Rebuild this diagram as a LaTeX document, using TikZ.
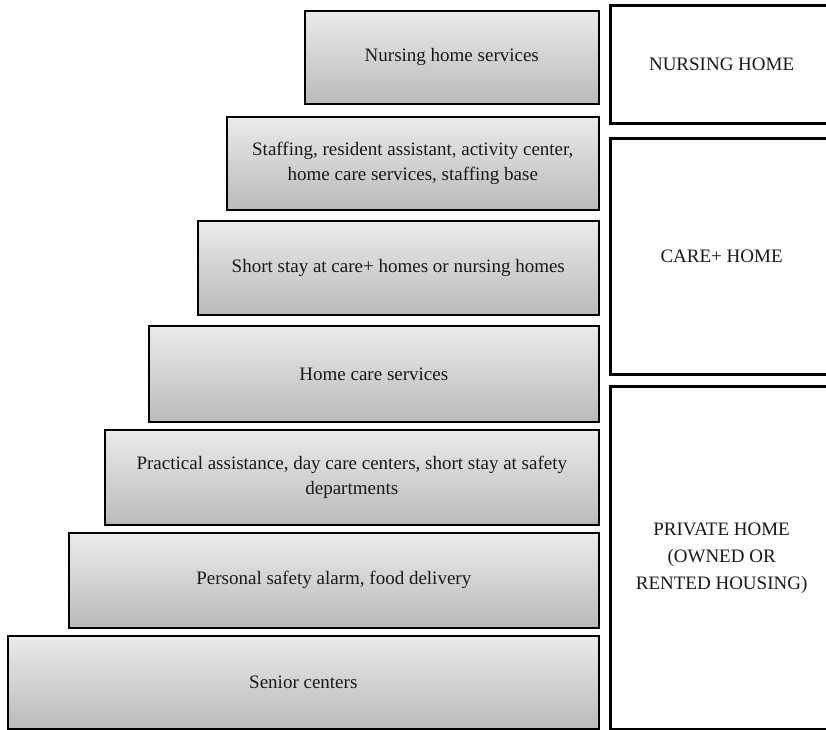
\documentclass[tikz,border=0pt]{standalone}
\usepackage{fontspec}
\setmainfont{Liberation Serif}
\usetikzlibrary{shadows}
\tikzset{
  stepbox/.style={draw=black,line width=1.6pt,top color=black!8,bottom color=black!27,
    drop shadow={shadow xshift=1.5pt,shadow yshift=-1.5pt,opacity=0.3},
    align=center,text=black!90,inner sep=0pt,anchor=north west,
    font=\fontsize{19}{25}\selectfont},
  homebox/.style={draw=black,line width=3.2pt,fill=white,align=center,text=black!90,
    inner sep=0pt,anchor=north west,font=\fontsize{19}{27}\selectfont},
}
\begin{document}
\begin{tikzpicture}[x=1pt,y=-1pt]
    \clip (0,0) rectangle (826,729);
    % steps
    \node[stepbox,minimum width=294pt,minimum height=93pt] (nursingsvc) at (304,10) {Nursing home services};
    \node[stepbox,minimum width=372pt,minimum height=93pt] (staffing) at (226,116) {Staffing, resident assistant, activity center,\\home care services, staffing base};
    \node[stepbox,minimum width=401pt,minimum height=94pt] (shortstay) at (197,220) {Short stay at care+ homes or nursing homes};
    \node[stepbox,minimum width=450pt,minimum height=96pt] (homecare) at (148,325) {Home care services};
    \node[stepbox,minimum width=494pt,minimum height=95pt] (practical) at (104,429) {Practical assistance, day care centers, short stay at safety\\departments};
    \node[stepbox,minimum width=530pt,minimum height=95pt] (alarm) at (68,532) {Personal safety alarm, food delivery};
    \node[stepbox,minimum width=591pt,minimum height=93pt] (senior) at (7,635) {Senior centers};
    % homes
    \node[homebox,minimum width=222pt,minimum height=118pt] (nursinghome) at (609,4) {NURSING HOME};
    \node[homebox,minimum width=222pt,minimum height=236pt] (carehome) at (609,137) {CARE+ HOME};
    \node[homebox,minimum width=222pt,minimum height=343pt] (privatehome) at (609,385) {PRIVATE HOME\\(OWNED OR\\RENTED HOUSING)};
\end{tikzpicture}
\end{document}
